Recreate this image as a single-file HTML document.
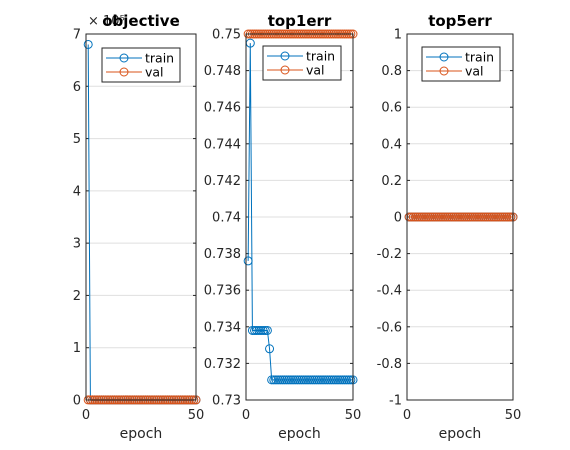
<!DOCTYPE html>
<html><head><meta charset="utf-8"><style>
body{margin:0;background:#fff}
svg{display:block;font-family:"DejaVu Sans","Liberation Sans",sans-serif}
</style></head><body>
<svg id="c" width="570" height="450"></svg>
<script>
const epochs = Array.from({length:50},(_,i)=>i+1);
const objTrain = [6.8].concat(Array(49).fill(0.002));
const objVal = Array(50).fill(0.002);
const top1Train = [0.7376,0.7495,0.7338,0.7338,0.7338,0.7338,0.7338,0.7338,0.7338,0.7338,0.7328].concat(Array(39).fill(0.7311));
const top1Val = Array(50).fill(0.75);
const top5Train = Array(50).fill(0);
const top5Val = Array(50).fill(0);
const xTicks = [0,50];
const objTicks = [0,1,2,3,4,5,6,7];
const top1Ticks = [0.73,0.732,0.734,0.736,0.738,0.74,0.742,0.744,0.746,0.748,0.75];
const top1Labels = ["0.73","0.732","0.734","0.736","0.738","0.74","0.742","0.744","0.746","0.748","0.75"];
const top5Ticks = [-1,-0.8,-0.6,-0.4,-0.2,0,0.2,0.4,0.6,0.8,1];
const top5Labels = ["-1","-0.8","-0.6","-0.4","-0.2","0","0.2","0.4","0.6","0.8","1"];
const NS="http://www.w3.org/2000/svg";
const svg=document.getElementById('c');
function mk(tag,attrs,parent){const e=document.createElementNS(NS,tag);for(const k in attrs)e.setAttribute(k,attrs[k]);(parent||svg).appendChild(e);return e;}
const T=34,B=400;
const ex=mk('text',{x:88,y:25,'font-size':13,fill:'#262626'});
ex.textContent='× 10⁵';


const panels=[
 {name:'objective',x0:86,x1:196,ymin:0,ymax:7,ticks:objTicks,labels:objTicks.map(String),tr:objTrain,va:objVal,lg:[102,48]},
 {name:'top1err',x0:246,x1:353,ymin:0.73,ymax:0.75,ticks:top1Ticks,labels:top1Labels,tr:top1Train,va:top1Val,lg:[263,46]},
 {name:'top5err',x0:407,x1:513,ymin:-1,ymax:1,ticks:top5Ticks,labels:top5Labels,tr:top5Train,va:top5Val,lg:[422,47]}
];
panels.forEach(p=>{
 const g=mk('g',{});
 
 
 const xs=v=>p.x0+(v-0)/(50-0)*(p.x1-p.x0);
 const ys=v=>B-(v-p.ymin)/(p.ymax-p.ymin)*(B-T);
 mk('rect',{x:p.x0,y:T,width:p.x1-p.x0,height:B-T,fill:'#fff'},g);
 p.ticks.forEach((t,i)=>{
  const y=ys(t);
  const gl=mk('line',{x1:p.x0,x2:p.x1,y1:y,y2:y,stroke:'#dfdfdf','stroke-width':1},g);
  
  
  mk('line',{x1:p.x0,x2:p.x0+3,y1:y,y2:y,stroke:'#262626'},g);
  mk('line',{x1:p.x1,x2:p.x1-3,y1:y,y2:y,stroke:'#262626'},g);
  const tl=mk('text',{x:p.x0-5,y:y+4.5,'text-anchor':'end','font-size':13,fill:'#262626'},g);
  tl.textContent=p.labels[i];
  
  
 });
 xTicks.forEach(t=>{
  const x=xs(t);
  mk('line',{x1:x,x2:x,y1:B,y2:B-3,stroke:'#262626'},g);
  const tl=mk('text',{x:x,y:B+19,'text-anchor':'middle','font-size':13,fill:'#262626'},g);
  tl.textContent=t;
  
  
 });
 [[p.tr,'#0072bd','train'],[p.va,'#d95319','val']].forEach(([d,c,n])=>{
  const pts=epochs.map((e,i)=>xs(e)+','+ys(d[i])).join(' ');
  const pl=mk('polyline',{points:pts,fill:'none',stroke:c,'stroke-width':1},g);
  
  
  epochs.forEach((e,i)=>{
   const m=mk('circle',{cx:xs(e),cy:ys(d[i]),r:4,fill:'none',stroke:c,'stroke-width':1},g);
   
   
  });
 });
 mk('rect',{x:p.x0,y:T,width:p.x1-p.x0,height:B-T,fill:'none',stroke:'#262626','stroke-width':1},g);
 const ti=mk('text',{x:(p.x0+p.x1)/2,y:26,'text-anchor':'middle','font-size':15,'font-weight':'bold',fill:'#000'},g);
 ti.textContent=p.name;
 
 
 const xl=mk('text',{x:(p.x0+p.x1)/2,y:438,'text-anchor':'middle','font-size':14,fill:'#262626'},g);
 xl.textContent='epoch';
 
 
 const [lx,ly]=p.lg;
 const lgd=mk('g',{},g);
 
 
 mk('rect',{x:lx,y:ly,width:78,height:34,fill:'#fff',stroke:'#262626'},lgd);
 [['train','#0072bd',0],['val','#d95319',1]].forEach(([n,c,k])=>{
  const yy=ly+10+k*14;
  mk('line',{x1:lx+4,x2:lx+40,y1:yy,y2:yy,stroke:c},lgd);
  mk('circle',{cx:lx+22,cy:yy,r:4,fill:'none',stroke:c},lgd);
  const t=mk('text',{x:lx+43,y:yy+4.5,'font-size':12.5,fill:'#000'},lgd);
  t.textContent=n;
  
  
 });
});
</script>
</body></html>
